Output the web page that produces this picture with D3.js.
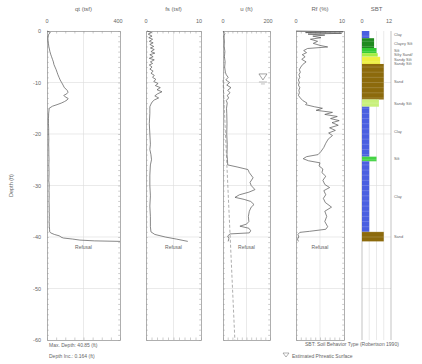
<!DOCTYPE html>
<html>
<head>
<meta charset="utf-8">
<script src="https://cdn.jsdelivr.net/npm/d3@7"></script>
<style>
  body { margin: 0; background: #fff; }
  svg { display: block; font-family: "Liberation Sans", Arial, sans-serif; }
</style>
</head>
<body>
<div id="chart"></div>
<script>
// depth in ft (positive down), value
const qtData = [[0,0],[0.3,18],[0.6,10],[1,6],[1.5,5],[2,6],[2.5,8],[3,10],[3.5,13],[4,16],[4.5,20],[5,25],[5.5,30],[6,35],[6.5,38],[7,44],[7.5,50],[8,55],[8.5,60],[9,66],[9.5,72],[10,80],[10.5,88],[11,95],[11.3,105],[11.6,112],[11.9,115],[12.2,108],[12.5,92],[12.8,100],[13.1,116],[13.4,110],[13.7,96],[14,78],[14.3,55],[14.6,30],[15,12],[16,9],[17,8],[18,8],[19,9],[20,9],[21,10],[22,9],[23,10],[24,10],[25,11],[26,10],[27,11],[28,11],[29,10],[30,12],[31,11],[32,12],[33,11],[34,12],[35,12],[36,13],[37,12],[38,13],[38.5,14],[39,15],[39.2,20],[39.5,40],[39.8,70],[40,75],[40.2,90],[40.4,140],[40.6,180],[40.75,260],[40.85,400]];

const fsData = [[0,0.2],[0.3,1.0],[0.6,0.4],[1,1.1],[1.3,0.5],[1.6,1.2],[2,0.6],[2.3,1.3],[2.6,0.7],[3,1.4],[3.3,0.8],[3.6,1.5],[4,0.9],[4.3,1.6],[4.6,0.7],[5,1.3],[5.3,0.6],[5.6,1.5],[6,0.8],[6.3,1.2],[6.6,0.6],[7,1.1],[7.4,0.7],[7.8,1.3],[8.2,0.9],[8.6,1.5],[9,1.2],[9.4,1.8],[9.8,1.4],[10.2,2.2],[10.6,1.7],[11,2.6],[11.4,2.0],[11.8,2.9],[12.2,2.1],[12.6,1.6],[13,2.3],[13.4,1.5],[13.8,1.1],[14.2,0.9],[14.7,0.7],[16,0.7],[18,0.6],[20,0.7],[22,0.8],[23,0.7],[24,0.9],[25,1.0],[26,0.8],[28,0.7],[30,0.7],[32,0.8],[34,0.7],[36,0.8],[38,0.8],[39,0.9],[39.5,1.6],[40,3.5],[40.4,5.5],[40.85,7.6]];

const uData = [[0,0],[0.5,8],[1,4],[2,6],[3,5],[4,8],[5,6],[6,9],[7,7],[8,10],[8.5,14],[9,22],[9.5,12],[10,28],[10.5,16],[11,34],[11.5,20],[12,30],[12.5,18],[13,24],[13.5,14],[14,18],[15,15],[16,16],[18,17],[20,16],[22,18],[24,17],[25,19],[26,20],[26.4,60],[26.9,106],[27.5,112],[28.5,128],[29.4,115],[30,120],[30.8,136],[31.3,110],[31.8,70],[32.3,51],[32.7,90],[33.1,118],[33.7,132],[34.2,120],[35,112],[36,108],[37,110],[37.5,100],[37.9,72],[38.3,110],[38.8,118],[39.2,112],[39.4,30],[39.8,20],[40.3,25],[40.85,22]];

const rfData = [[0,0],[0.15,9.8],[0.3,2],[0.45,9.5],[0.6,2.5],[0.8,6],[1,3.5],[1.3,5.2],[1.6,3],[2,4.5],[2.4,3.6],[2.8,5],[3.1,6.6],[3.4,2.4],[3.8,1.6],[4.2,2.2],[4.6,1.3],[5,1.9],[5.5,1.2],[6,2.1],[6.5,1.4],[7,1.0],[7.5,0.7],[8,0.9],[8.5,0.6],[9,0.8],[9.5,0.5],[10,0.7],[10.5,0.5],[11,0.8],[11.5,0.6],[12,0.7],[12.5,0.5],[13,0.9],[13.5,1.4],[14,2.3],[14.3,2.0],[14.7,3.8],[15,5.5],[15.4,4.2],[15.8,7.6],[16.2,6],[16.6,8.6],[17,7.2],[17.4,9],[17.8,7.5],[18.3,8.8],[18.8,7],[19.3,8.2],[19.8,6.8],[20.3,7.6],[21,6.7],[21.8,6.2],[22.6,5.8],[23.4,5.2],[24,4.6],[24.4,2.2],[24.8,1.5],[25.2,2.6],[25.6,5],[26.2,4.8],[26.8,5.6],[27.5,5.4],[28.2,6.2],[29,5.6],[29.8,6.0],[30.4,7],[31,5.8],[31.8,6.2],[32.5,5.7],[33.3,6.1],[34.2,7.4],[35,6.0],[36,6.4],[37,6.0],[38,6.6],[38.5,6.2],[38.9,2.8],[39.1,0.8],[39.5,0.4],[40,0.6],[40.4,0.3],[40.85,0.5]];

// SBT layers
const sbtTop    = [0, 1.4, 3.3, 4.3, 5.0, 6.4, 13.3, 14.7, 24.4, 25.3, 39.0];
const sbtBottom = [1.4, 3.3, 4.3, 5.0, 6.4, 13.3, 14.7, 24.4, 25.3, 39.0, 40.85];
const sbtZone   = [3, 5, 6, 6.5, 7.5, 9, 7, 3, 6, 3, 9];
const sbtColor  = ['#4a5fe0', '#1f8a1f', '#33cc33', '#a6ee44', '#eef040', '#8c6a0c', '#c8f07a', '#4a5fe0', '#44d444', '#4a5fe0', '#8c6a0c'];
const sbtLabel  = ['Clay', 'Clayey Silt', 'Silt', 'Silty Sand/|Sandy Silt', 'Sandy Silt', 'Sand', 'Sandy Silt', 'Clay', 'Silt', 'Clay', 'Sand'];

const panelTitles = ['qt (tsf)', 'fs (tsf)', 'u (ft)', 'Rf (%)', 'SBT'];
const panelMax = [400, 10, 200, 10, 12];
const depthTicks = [0, 10, 20, 30, 40, 50, 60];
const maxDepth = 40.85;
const phreatic = 9.5;
const hydroData = [[phreatic, 0], [60, 50.5]];

// layout
const W = 422, H = 364;
const panelX = [[47, 120], [146, 201], [223, 270], [296, 344], [362, 391]];
const plotTop = 31, plotBottom = 340;

const svg = d3.select('#chart').append('svg').attr('width', W).attr('height', H);

const y = d3.scaleLinear().domain([0, 60]).range([plotTop, plotBottom]);

const frameColor = '#9a9a9a', gridColor = '#dcdcdc', textColor = '#666', lineColor = '#555';

const xs = panelX.map((p, i) => d3.scaleLinear().domain([0, panelMax[i]]).range(p));
const series = [qtData, fsData, uData, rfData];

xs.forEach((x, i) => {
  const [x0, x1] = panelX[i];
  const g = svg.append('g');

  // horizontal grid
  g.selectAll('.hg').data(depthTicks.slice(1, -1)).join('line')
    .attr('x1', x0).attr('x2', x1)
    .attr('y1', d => y(d)).attr('y2', d => y(d))
    .attr('stroke', gridColor).attr('stroke-width', 0.6);

  // vertical grid
  const vg = i === 4 ? [3, 6, 9] : [panelMax[i] / 2];
  g.selectAll('.vg').data(vg).join('line')
    .attr('x1', d => x(d)).attr('x2', d => x(d))
    .attr('y1', plotTop).attr('y2', plotBottom)
    .attr('stroke', gridColor).attr('stroke-width', 0.6);

  // title & range labels
  g.append('text').attr('x', (x0 + x1) / 2).attr('y', 11)
    .attr('text-anchor', 'middle').attr('font-size', 6).attr('fill', textColor)
    .text(panelTitles[i]);
  g.append('text').attr('x', x0).attr('y', 23).attr('text-anchor', 'middle')
    .attr('font-size', 5.5).attr('fill', textColor).text('0');
  g.append('text').attr('x', x1 - 2).attr('y', 23).attr('text-anchor', 'middle')
    .attr('font-size', 5.5).attr('fill', textColor).text(panelMax[i]);

  if (i < 4) {
    // frame axes with inward ticks
    const tickStyle = s => s.call(a => a.select('.domain').attr('stroke', frameColor).attr('stroke-width', 0.8))
      .call(a => a.selectAll('.tick line').attr('stroke', frameColor).attr('stroke-width', 0.5))
      .call(a => a.selectAll('.tick text').remove());
    g.append('g').attr('transform', `translate(0,${plotTop})`)
      .call(d3.axisTop(x).ticks(8).tickSize(-2.5).tickSizeOuter(0)).call(tickStyle);
    g.append('g').attr('transform', `translate(0,${plotBottom})`)
      .call(d3.axisBottom(x).ticks(8).tickSize(-2.5).tickSizeOuter(0)).call(tickStyle);
    g.append('g').attr('transform', `translate(${x0},0)`)
      .call(d3.axisLeft(y).ticks(60).tickSize(-1.8).tickSizeOuter(0)).call(tickStyle);
    g.append('g').attr('transform', `translate(${x1},0)`)
      .call(d3.axisRight(y).ticks(60).tickSize(-1.8).tickSizeOuter(0)).call(tickStyle);

    const line = d3.line().x(d => x(d[1])).y(d => y(d[0]));
    g.append('path').datum(series[i]).attr('d', line)
      .attr('fill', 'none').attr('stroke', lineColor).attr('stroke-width', 0.7);

    g.append('text').attr('x', (x0 + x1) / 2).attr('y', y(maxDepth) + 8)
      .attr('text-anchor', 'middle').attr('font-size', 5).attr('fill', textColor)
      .text('Refusal');
  } else {
    g.selectAll('.edge').data([0, 12]).join('line')
      .attr('x1', d => x(d)).attr('x2', d => x(d))
      .attr('y1', plotTop).attr('y2', plotBottom)
      .attr('stroke', frameColor).attr('stroke-width', 0.6);

    const layers = sbtTop.map((t, k) => ({ top: t, bottom: sbtBottom[k], zone: sbtZone[k], color: sbtColor[k], label: sbtLabel[k] }));
    g.selectAll('.sbt').data(layers).join('rect')
      .attr('x', x(0)).attr('y', d => y(d.top))
      .attr('width', d => x(d.zone) - x(0))
      .attr('height', d => y(d.bottom) - y(d.top))
      .attr('fill', d => d.color);
    // thin segment lines across the bars
    const seg = d3.range(1, Math.floor(maxDepth) + 1);
    g.selectAll('.seg').data(seg).join('line')
      .attr('x1', x(0)).attr('x2', d => {
        const l = layers.find(a => d >= a.top && d < a.bottom);
        return l ? x(l.zone) : x(0);
      })
      .attr('y1', d => y(d)).attr('y2', d => y(d))
      .attr('stroke', '#fff').attr('stroke-opacity', 0.35).attr('stroke-width', 0.5);

    // labels, pushed down so that they don't collide
    const lh = 4.4;
    let prevEnd = -Infinity;
    layers.forEach(d => {
      d.parts = d.label.split('|');
      d.ly = Math.max(y((d.top + d.bottom) / 2) + 1.5, prevEnd + lh);
      prevEnd = d.ly + (d.parts.length - 1) * lh;
    });
    g.selectAll('.lab').data(layers).join('text')
      .attr('x', x1 + 3).attr('y', d => d.ly)
      .attr('font-size', 3.9).attr('fill', textColor)
      .each(function (d) {
        const t = d3.select(this);
        d.parts.forEach((p, k) => t.append('tspan').attr('x', x1 + 3)
          .attr('dy', k === 0 ? 0 : lh).text(p));
      });
  }
});

// hydrostatic line in u panel
const xu = xs[2];
svg.append('path').datum(hydroData)
  .attr('d', d3.line().x(d => xu(d[1])).y(d => y(d[0])))
  .attr('fill', 'none').attr('stroke', '#777').attr('stroke-width', 0.6)
  .attr('stroke-dasharray', '3,2');

// phreatic surface marker
const tx = xu(170), ty = y(phreatic);
svg.append('path')
  .attr('d', `M${tx - 4},${ty - 6}L${tx + 4},${ty - 6}L${tx},${ty}Z`)
  .attr('fill', 'none').attr('stroke', '#666').attr('stroke-width', 0.6);
svg.append('line').attr('x1', tx - 4).attr('x2', tx + 4).attr('y1', ty + 2).attr('y2', ty + 2)
  .attr('stroke', '#888').attr('stroke-width', 0.5);
svg.append('line').attr('x1', tx - 2).attr('x2', tx + 2).attr('y1', ty + 4).attr('y2', ty + 4)
  .attr('stroke', '#888').attr('stroke-width', 0.5);

// depth axis labels
svg.selectAll('.dl').data(depthTicks).join('text')
  .attr('x', 41).attr('y', d => y(d) + 2)
  .attr('text-anchor', 'end').attr('font-size', 5.5).attr('fill', textColor)
  .text(d => d === 0 ? '0' : '-' + d);
svg.append('text')
  .attr('transform', `translate(13,${y(30)}) rotate(-90)`)
  .attr('text-anchor', 'middle').attr('font-size', 5.5).attr('fill', textColor)
  .text('Depth (ft)');

// footnotes
const foot = svg.append('g').attr('font-size', 5).attr('fill', textColor);
foot.append('text').attr('x', 49).attr('y', 347).text('Max. Depth: ' + maxDepth.toFixed(2) + ' (ft)');
foot.append('text').attr('x', 49).attr('y', 358).text('Depth Inc.: 0.164 (ft)');
foot.append('text').attr('x', 305).attr('y', 346).text('SBT: Soil Behavior Type (Robertson 1990)');
foot.append('path').attr('d', 'M283,353L289,353L286,357Z').attr('fill', 'none').attr('stroke', '#666').attr('stroke-width', 0.5);
foot.append('text').attr('x', 292).attr('y', 358).text('Estimated Phreatic Surface');
</script>
</body>
</html>
